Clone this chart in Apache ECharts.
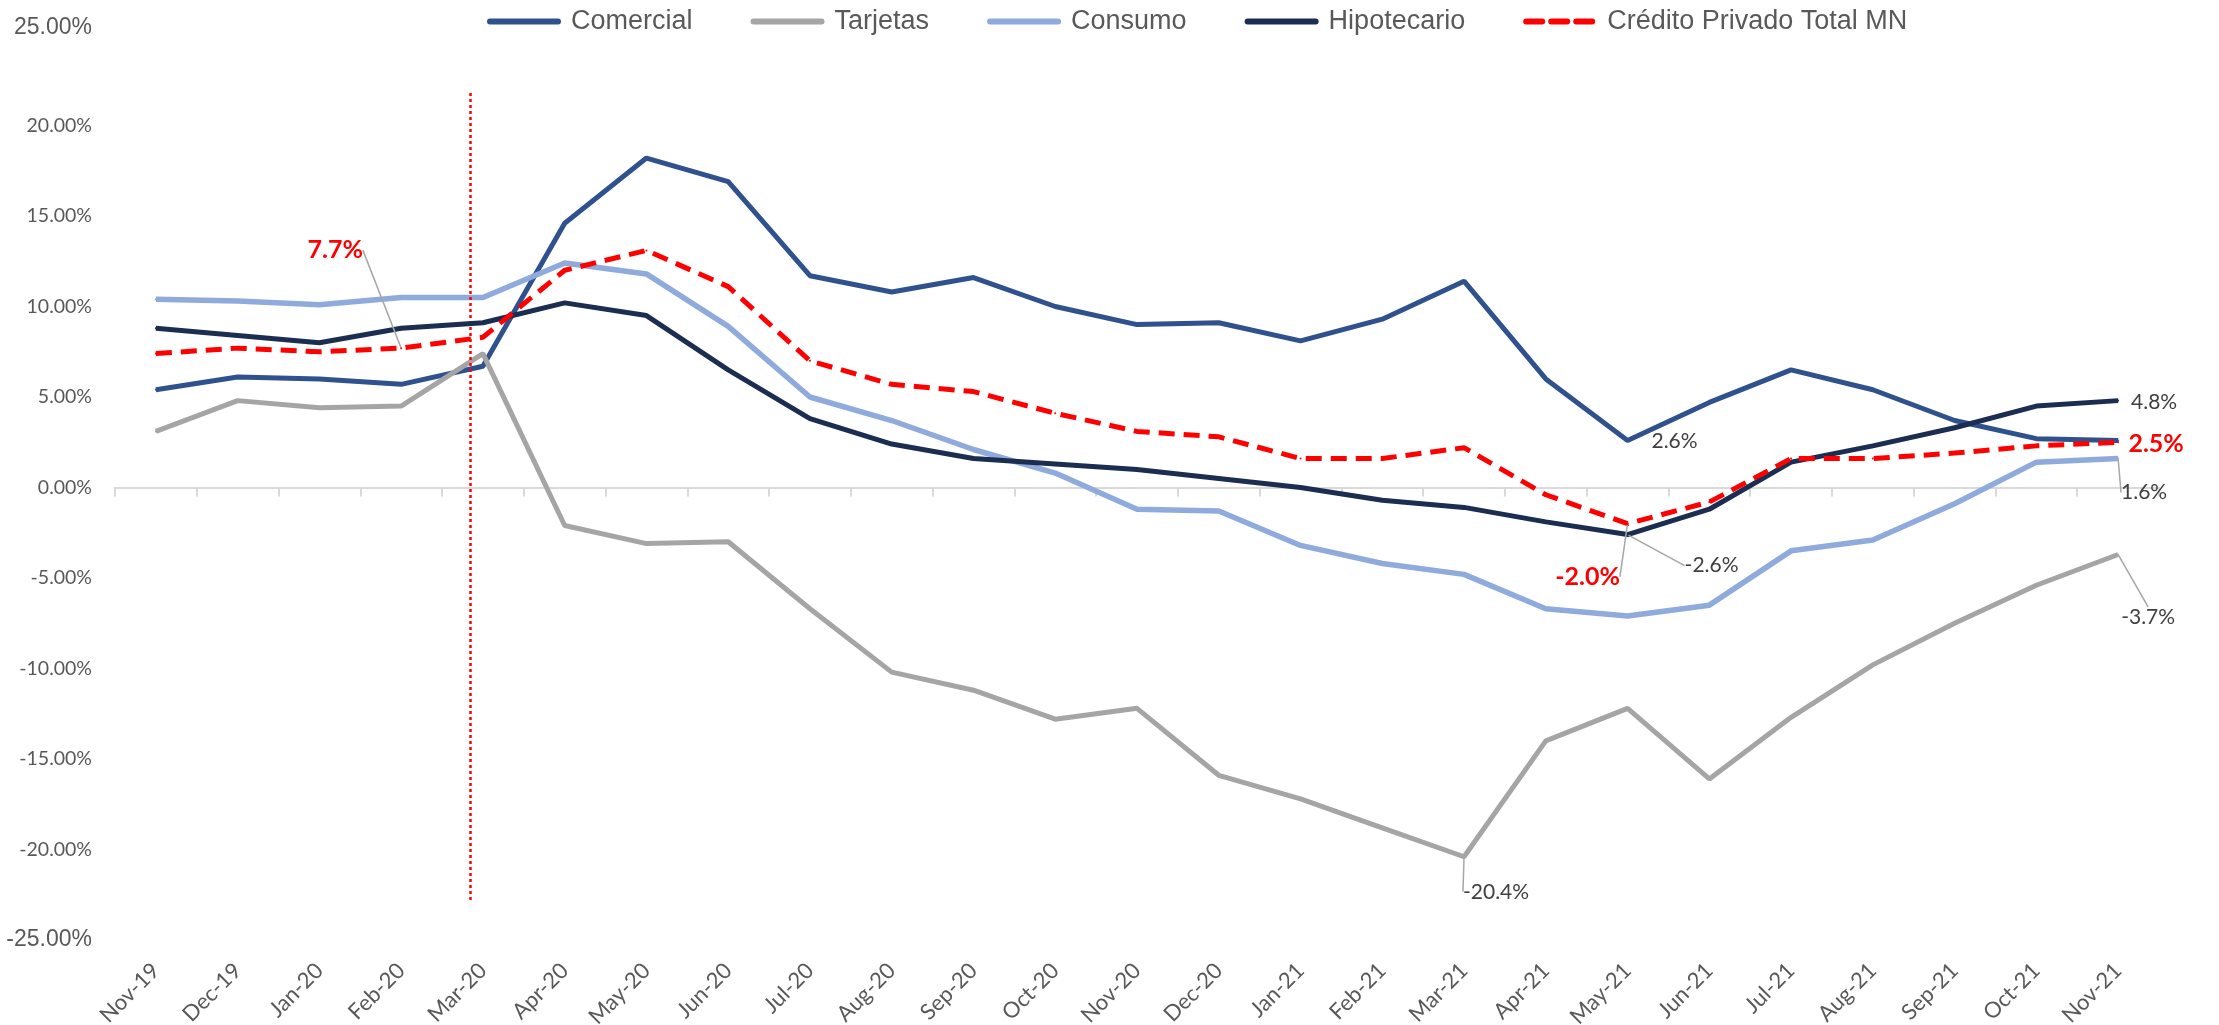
<!DOCTYPE html>
<html><head><meta charset="utf-8">
<script src="https://cdn.jsdelivr.net/npm/echarts@6/dist/echarts.min.js"></script>
<style>html,body{margin:0;padding:0;background:#fff}#c{width:2219px;height:1025px}</style>
</head><body><div id="c"></div>
<script>
const categories = ['Nov-19','Dec-19','Jan-20','Feb-20','Mar-20','Apr-20','May-20','Jun-20','Jul-20','Aug-20','Sep-20','Oct-20','Nov-20','Dec-20','Jan-21','Feb-21','Mar-21','Apr-21','May-21','Jun-21','Jul-21','Aug-21','Sep-21','Oct-21','Nov-21'];
const comercial   = [5.4, 6.1, 6.0, 5.7, 6.7, 14.6, 18.2, 16.9, 11.7, 10.8, 11.6, 10.0, 9.0, 9.1, 8.1, 9.3, 11.4, 6.0, 2.6, 4.7, 6.5, 5.4, 3.7, 2.7, 2.6];
const tarjetas    = [3.1, 4.8, 4.4, 4.5, 7.4, -2.1, -3.1, -3.0, -6.7, -10.2, -11.2, -12.8, -12.2, -15.9, -17.2, -18.8, -20.4, -14.0, -12.2, -16.1, -12.7, -9.8, -7.5, -5.4, -3.7];
const consumo     = [10.4, 10.3, 10.1, 10.5, 10.5, 12.4, 11.8, 8.9, 5.0, 3.7, 2.1, 0.8, -1.2, -1.3, -3.2, -4.2, -4.8, -6.7, -7.1, -6.5, -3.5, -2.9, -0.9, 1.4, 1.6];
const hipotecario = [8.8, 8.4, 8.0, 8.8, 9.1, 10.2, 9.5, 6.5, 3.8, 2.4, 1.6, 1.3, 1.0, 0.5, 0.0, -0.7, -1.1, -1.9, -2.6, -1.2, 1.4, 2.3, 3.3, 4.5, 4.8];
const creditoTotal = [7.4, 7.7, 7.5, 7.7, 8.3, 12.0, 13.1, 11.1, 7.0, 5.7, 5.3, 4.1, 3.1, 2.8, 1.6, 1.6, 2.2, -0.4, -2.0, -0.8, 1.6, 1.6, 1.9, 2.3, 2.5];
const seriesNames = ['Comercial','Tarjetas','Consumo','Hipotecario','Crédito Privado Total MN'];
const yMin = -25, yMax = 25, yInterval = 5;
// vertical reference line (category position, top and bottom values)
const markerPos = 3.85, markerTop = 21.8, markerBottom = -22.8;
// annotated points: series index, data index, label offset, style
const annotations = [
  {s:4, i:3,  dx:-66, dy:-98, kind:'red',  line:true},
  {s:0, i:18, dx:47,  dy:1,   kind:'gray', line:false},
  {s:4, i:18, dx:-40, dy:53,  kind:'red',  line:true},
  {s:3, i:18, dx:84,  dy:31,  kind:'gray', line:true},
  {s:3, i:24, dx:36,  dy:2,   kind:'gray', line:false},
  {s:4, i:24, dx:38,  dy:2,   kind:'red',  line:false},
  {s:2, i:24, dx:26,  dy:34,  kind:'gray', line:true},
  {s:1, i:24, dx:30,  dy:63,  kind:'gray', line:true},
  {s:1, i:16, dx:32,  dy:35,  kind:'gray', line:true}
];
const colors = ['#2F528F','#A5A5A5','#8FAADC','#1C2D52','#FF0000'];
const values = [comercial, tarjetas, consumo, hipotecario, creditoTotal];

const labelFont = "Lato, 'Open Sans', sans-serif";
const legendFont = "'Liberation Sans', Arial, sans-serif";

function buildData(sIdx) {
  return values[sIdx].map((v, i) => {
    const a = annotations.find(x => x.s === sIdx && x.i === i);
    if (!a) return v;
    const red = a.kind === 'red';
    return {
      value: v,
      label: {
        show: true, position: 'inside',
        formatter: p => p.value.toFixed(1) + '%',
        color: red ? '#FF0000' : '#404040',
        fontWeight: red ? 'bold' : 'normal',
        fontSize: red ? 25 : 21,
        fontFamily: labelFont
      },
      labelLine: {show: a.line, lineStyle: {color: '#A6A6A6', width: 1.5}}
    };
  });
}

const series = seriesNames.map((name, k) => ({
  name, type: 'line', xAxisIndex: 0, yAxisIndex: 0,
  data: buildData(k),
  symbol: 'circle', symbolSize: 2, showSymbol: true,
  itemStyle: {color: colors[k]},
  lineStyle: k === 4 ? {color: colors[k], width: 5, type: [16, 9], cap: 'butt'} : {color: colors[k], width: k === 2 ? 5.5 : 5},
  emphasis: {disabled: true},
  z: 2 + k,
  labelLayout: p => {
    const a = annotations.find(x => x.s === p.seriesIndex && x.i === p.dataIndex);
    return a ? {dx: a.dx, dy: a.dy} : {};
  }
}));
series.push({
  name: 'marker', type: 'line', xAxisIndex: 2, yAxisIndex: 0, data: [],
  markLine: {
    symbol: 'none', silent: true, label: {show: false},
    lineStyle: {color: '#FF0000', width: 2.5, type: [3, 3]},
    data: [[{coord: [markerPos, markerTop]}, {coord: [markerPos, markerBottom]}]]
  }
});

const chart = echarts.init(document.getElementById('c'), null, {renderer: 'canvas'});
chart.setOption({
  animation: false,
  backgroundColor: '#fff',
  legend: {
    data: seriesNames, left: 482, top: 3,
    itemWidth: 68, itemHeight: 9, itemGap: 58,
    itemStyle: {opacity: 0},
    lineStyle: {width: 6, cap: 'round'},
    textStyle: {fontFamily: legendFont, fontSize: 27, color: '#595959', padding: [0, 0, 0, 8]}
  },
  grid: {left: 115, right: 60, top: 35, bottom: 85, containLabel: false, outerBoundsMode: 'none'},
  xAxis: [
    {type: 'category', data: categories, position: 'bottom', boundaryGap: true,
     axisLine: {show: true, onZero: true, lineStyle: {color: '#D9D9D9', width: 2}},
     axisTick: {show: true, length: 9, lineStyle: {color: '#D9D9D9', width: 2}},
     axisLabel: {show: false}, splitLine: {show: false}},
    {type: 'category', data: categories, position: 'bottom', boundaryGap: true,
     axisLine: {show: false, onZero: false}, axisTick: {show: false}, splitLine: {show: false},
     axisLabel: {show: true, interval: 0, rotate: 45, margin: 27, fontSize: 22, fontFamily: labelFont, color: '#595959'}},
    {type: 'value', min: -0.5, max: 24.5, show: false}
  ],
  yAxis: {
    type: 'value', min: yMin, max: yMax, interval: yInterval,
    axisLine: {show: false}, axisTick: {show: false}, splitLine: {show: false},
    axisLabel: {
      margin: 23, color: '#595959', fontFamily: labelFont, fontSize: 19.5,
      formatter: v => v === yMax ? '{t|' + v.toFixed(2) + '%}' : (v === yMin ? '{n|' + v.toFixed(2) + '%}' : v.toFixed(2) + '%'),
      rich: {
        n: {fontFamily: legendFont, fontSize: 23, color: '#595959'},
        t: {fontFamily: legendFont, fontSize: 23, color: '#595959', padding: [0, 0, 14, 0]}
      }
    }
  },
  series
});
</script></body></html>
